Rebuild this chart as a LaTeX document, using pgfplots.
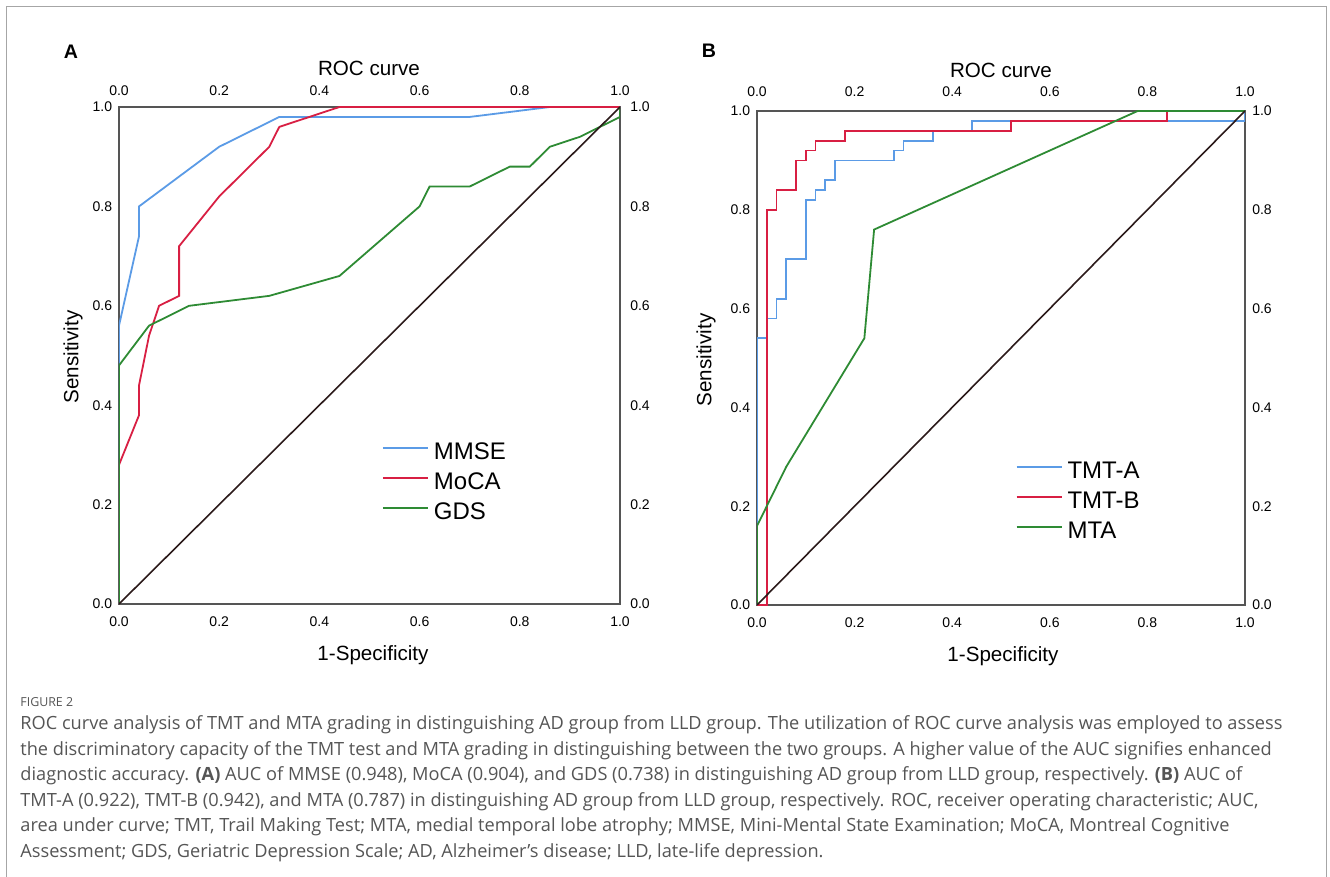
\documentclass[border=0pt]{standalone}
\usepackage{fontspec}
\setmainfont{Liberation Sans}
\newfontfamily\capfont{Open Sans}
\usepackage{pgfplots}
\pgfplotsset{compat=1.18}

\definecolor{rocblue}{HTML}{5B9BE6}
\definecolor{rocred}{HTML}{D81F43}
\definecolor{rocgreen}{HTML}{2E8B34}
\definecolor{diag}{HTML}{2B1A1A}
\definecolor{framegray}{HTML}{555555}
\definecolor{capgray}{HTML}{555555}

\pgfplotsset{
  rocbase/.style={
    scale only axis,
    xmin=0, xmax=1, ymin=0, ymax=1,
    xtick={0,0.2,0.4,0.6,0.8,1},
    ytick={0,0.2,0.4,0.6,0.8,1},
    major tick length=0pt,
    axis line style={framegray, line width=0.7pt},
    tick label style={font=\fontsize{7}{8}\selectfont},
    /pgf/number format/.cd, fixed, fixed zerofill, precision=1, assume math mode=true,
  },
  roclegend/.style={
    legend cell align=left,
    legend image code/.code={\draw[##1, line width=1pt] (0pt,4.3pt) -- (22.5pt,4.3pt);},
    legend style={draw=none, fill=none, inner sep=0pt, column sep=2.5pt,
      font=\fontsize{12}{15}\selectfont,
      nodes={inner sep=0pt, text height=9pt, text depth=6pt}},
  },
}

\begin{document}
\begin{tikzpicture}
\useasboundingbox (0,0) rectangle (665pt,-438.5pt);

% ---------- panel A ----------
\begin{axis}[rocbase, roclegend,
  at={(59.5pt,-302pt)}, anchor=south west, width=250.5pt, height=248.5pt,
  xticklabel style={anchor=center, yshift=-8.7pt},
  yticklabel style={anchor=center, xshift=-8.3pt},
  legend style={at={(0.524,0.327)}, anchor=north west}]
\addplot[rocblue, line width=0.9pt] coordinates {
  (0,0) (0,0.56) (0.04,0.74) (0.04,0.80) (0.20,0.92) (0.32,0.98) (0.70,0.98) (0.86,1) (1,1)};
\addlegendentry{MMSE}
\addplot[rocred, line width=0.9pt] coordinates {
  (0,0) (0,0.28) (0.04,0.38) (0.04,0.44) (0.06,0.54) (0.08,0.60) (0.12,0.62) (0.12,0.72)
  (0.20,0.82) (0.30,0.92) (0.32,0.96) (0.44,1) (1,1)};
\addlegendentry{MoCA}
\addplot[rocgreen, line width=0.9pt] coordinates {
  (0,0) (0,0.48) (0.06,0.56) (0.14,0.60) (0.30,0.62) (0.44,0.66) (0.60,0.80) (0.62,0.84)
  (0.70,0.84) (0.78,0.88) (0.82,0.88) (0.86,0.92) (0.92,0.94) (1,0.98) (1,1)};
\addlegendentry{GDS}
\addplot[diag, line width=0.8pt, forget plot] coordinates {(0,0) (1,1)};
\end{axis}
\begin{axis}[rocbase,
  at={(59.5pt,-302pt)}, anchor=south west, width=250.5pt, height=248.5pt,
  axis x line*=top, axis y line*=right, axis line style={draw=none},
  xticklabel style={anchor=center, yshift=8pt},
  yticklabel style={anchor=center, xshift=10pt}]
\addplot[draw=none] coordinates {(0,0) (1,1)};
\end{axis}

% ---------- panel B ----------
\begin{axis}[rocbase, roclegend,
  at={(378.5pt,-302.5pt)}, anchor=south west, width=244pt, height=247pt,
  xticklabel style={anchor=center, yshift=-9pt},
  yticklabel style={anchor=center, xshift=-8.3pt},
  legend style={at={(0.529,0.294)}, anchor=north west}]
\addplot[rocblue, line width=0.9pt] coordinates {
  (0,0) (0,0.54) (0.02,0.54) (0.02,0.58) (0.04,0.58) (0.04,0.62) (0.06,0.62) (0.06,0.70)
  (0.10,0.70) (0.10,0.82) (0.12,0.82) (0.12,0.84) (0.14,0.84) (0.14,0.86) (0.16,0.86)
  (0.16,0.90) (0.28,0.90) (0.28,0.92) (0.30,0.92) (0.30,0.94) (0.36,0.94) (0.36,0.96)
  (0.44,0.96) (0.44,0.98) (1,0.98) (1,1)};
\addlegendentry{TMT-A}
\addplot[rocred, line width=0.9pt] coordinates {
  (0,0) (0.02,0) (0.02,0.80) (0.04,0.80) (0.04,0.84) (0.08,0.84) (0.08,0.90) (0.10,0.90)
  (0.10,0.92) (0.12,0.92) (0.12,0.94) (0.18,0.94) (0.18,0.96) (0.52,0.96) (0.52,0.98)
  (0.84,0.98) (0.84,1) (1,1)};
\addlegendentry{TMT-B}
\addplot[rocgreen, line width=0.9pt] coordinates {
  (0,0) (0,0.16) (0.06,0.28) (0.22,0.54) (0.24,0.76) (0.78,1) (1,1)};
\addlegendentry{MTA}
\addplot[diag, line width=0.8pt, forget plot] coordinates {(0,0) (1,1)};
\end{axis}
\begin{axis}[rocbase,
  at={(378.5pt,-302.5pt)}, anchor=south west, width=244pt, height=247pt,
  axis x line*=top, axis y line*=right, axis line style={draw=none},
  xticklabel style={anchor=center, yshift=9.5pt},
  yticklabel style={anchor=center, xshift=8.5pt}]
\addplot[draw=none] coordinates {(0,0) (1,1)};
\end{axis}

% ---------- titles, frame and caption (pixel grid) ----------
\begin{scope}[x=0.5pt, y=-0.5pt]
\draw[black!35, line width=0.6pt] (6.5,877) -- (6.5,6.5) -- (1326.5,6.5) -- (1326.5,877);

\node[font=\fontsize{9.8}{11}\selectfont\bfseries] at (71,52) {A};
\node[font=\fontsize{9.8}{11}\selectfont\bfseries] at (709,51) {B};
\node[font=\fontsize{10.3}{12}\selectfont] at (369,68) {ROC curve};
\node[font=\fontsize{10.3}{12}\selectfont] at (1001,70) {ROC curve};
\node[font=\fontsize{10.3}{12}\selectfont] at (373,655) {1-Specificity};
\node[font=\fontsize{10.3}{12}\selectfont] at (1003,656) {1-Specificity};
\node[font=\fontsize{10.3}{12}\selectfont, rotate=90] at (73,357) {Sensitivity};
\node[font=\fontsize{10.3}{12}\selectfont, rotate=90] at (706,360) {Sensitivity};

\begin{scope}[every node/.style={anchor=base west, inner sep=0pt, text=capgray,
    font=\capfont\fontsize{9.1}{11}\selectfont}]
\node[font=\capfont\fontsize{6.2}{8}\selectfont] at (20,706) {FIGURE 2};
\node at (20,729) {ROC curve analysis of TMT and MTA grading in distinguishing AD group from LLD group. The utilization of ROC curve analysis was employed to assess};
\node at (20,755) {the discriminatory capacity of the TMT test and MTA grading in distinguishing between the two groups. A higher value of the AUC signifies enhanced};
\node at (20,780) {diagnostic accuracy. \textbf{(A)} AUC of MMSE (0.948), MoCA (0.904), and GDS (0.738) in distinguishing AD group from LLD group, respectively. \textbf{(B)} AUC of};
\node at (20,806) {TMT-A (0.922), TMT-B (0.942), and MTA (0.787) in distinguishing AD group from LLD group, respectively. ROC, receiver operating characteristic; AUC,};
\node at (20,831) {area under curve; TMT, Trail Making Test; MTA, medial temporal lobe atrophy; MMSE, Mini-Mental State Examination; MoCA, Montreal Cognitive};
\node at (20,857) {Assessment; GDS, Geriatric Depression Scale; AD, Alzheimer’s disease; LLD, late-life depression.};
\end{scope}
\end{scope}
\end{tikzpicture}
\end{document}
